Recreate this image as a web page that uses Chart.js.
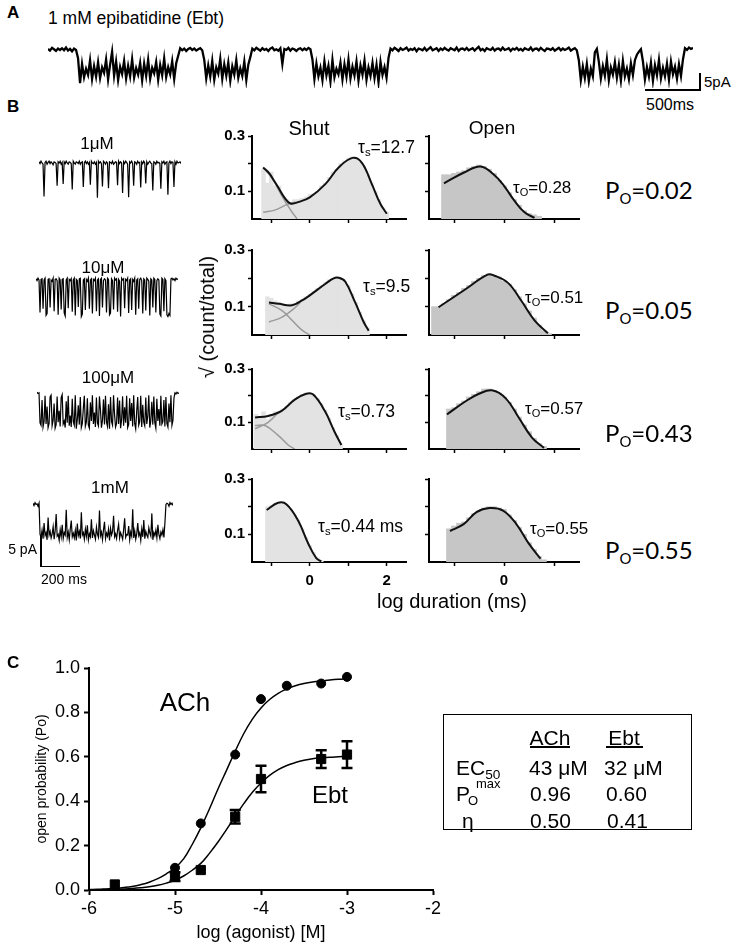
<!DOCTYPE html>
<html>
<head>
<meta charset="utf-8">
<script src="https://cdn.jsdelivr.net/npm/chart.js@4.4.1/dist/chart.umd.min.js"></script>
<style>
  body { margin: 0; background: #fff; }
  #page { position: relative; width: 733px; height: 945px; overflow: hidden; font-family: "Liberation Sans", Arial, sans-serif; color: #000; }
  canvas { position: absolute; }
  .t { position: absolute; white-space: nowrap; line-height: 1; }
  .c { transform: translate(-50%, -50%); }
  .l { transform: translateY(-50%); }
  .r { transform: translate(-100%, -50%); }
  .ln { position: absolute; background: #000; }
  .sub { font-size: 0.65em; position: relative; top: 0.3em; }
  .po { font-family: Lato, "Liberation Sans", sans-serif; font-size: 24px; }
  .po .sub { font-size: 0.62em; top: 0.35em; }
</style>
</head>
<body>
<div id="page">
  <div id="plots"></div>

  <!-- panel A -->
  <div class="t l" style="left:7px;top:12px;font-size:17px;font-weight:bold">A</div>
  <div class="t l" style="left:48px;top:19px;font-size:17.5px">1 mM epibatidine (Ebt)</div>
  <div class="ln" style="left:699px;top:73px;width:2px;height:18px"></div>
  <div class="ln" style="left:645px;top:89px;width:56px;height:2px"></div>
  <div class="t l" style="left:704px;top:81px;font-size:15px">5pA</div>
  <div class="t c" style="left:670px;top:105px;font-size:16px">500ms</div>

  <!-- panel B -->
  <div class="t l" style="left:7px;top:106px;font-size:17px;font-weight:bold">B</div>
  <div class="t c" style="left:309px;top:128px;font-size:20px">Shut</div>
  <div class="t c" style="left:492px;top:127px;font-size:19px">Open</div>
  <div class="t c" style="left:97px;top:143px;font-size:17px">1μM</div>
  <div class="t c" style="left:103px;top:267px;font-size:17px">10μM</div>
  <div class="t c" style="left:108px;top:377px;font-size:17px">100μM</div>
  <div class="t c" style="left:110px;top:487px;font-size:17px">1mM</div>
  <div class="ln" style="left:40px;top:536px;width:1.5px;height:31px"></div>
  <div class="ln" style="left:40px;top:565.5px;width:40px;height:1.5px"></div>
  <div class="t r" style="left:37px;top:549px;font-size:14px">5 pA</div>
  <div class="t c" style="left:64px;top:579px;font-size:14px">200 ms</div>
  <div class="t c" style="left:207px;top:317px;font-size:20px;transform:translate(-50%,-50%) rotate(-90deg)">√ (count/total)</div>
  <div class="t c" style="left:452px;top:601px;font-size:20px">log duration (ms)</div>

  <div class="t l" style="left:358px;top:148px;font-size:17.5px">τ<span class="sub">s</span>=12.7</div>
  <div class="t l" style="left:363px;top:287px;font-size:17.5px">τ<span class="sub">s</span>=9.5</div>
  <div class="t l" style="left:338px;top:412px;font-size:17.5px">τ<span class="sub">s</span>=0.73</div>
  <div class="t l" style="left:318px;top:527px;font-size:17.5px">τ<span class="sub">s</span>=0.44 ms</div>
  <div class="t l" style="left:513px;top:187px;font-size:17px">τ<span class="sub">O</span>=0.28</div>
  <div class="t l" style="left:525px;top:297px;font-size:17px">τ<span class="sub">O</span>=0.51</div>
  <div class="t l" style="left:525px;top:408px;font-size:17px">τ<span class="sub">O</span>=0.57</div>
  <div class="t l" style="left:530px;top:528px;font-size:17px">τ<span class="sub">O</span>=0.55</div>

  <div class="t l po" style="left:605px;top:190px">P<span class="sub">O</span>=0.02</div>
  <div class="t l po" style="left:605px;top:310px">P<span class="sub">O</span>=0.05</div>
  <div class="t l po" style="left:605px;top:433px">P<span class="sub">O</span>=0.43</div>
  <div class="t l po" style="left:605px;top:550px">P<span class="sub">O</span>=0.55</div>

  <!-- panel C -->
  <div class="t l" style="left:7px;top:662px;font-size:17px;font-weight:bold">C</div>
  <div class="t c" style="left:185px;top:702px;font-size:26px">ACh</div>
  <div class="t c" style="left:330px;top:795px;font-size:24px">Ebt</div>

  <div style="position:absolute;left:443px;top:714px;width:247px;height:114px;border:1.5px solid #000"></div>
  <div class="t c" style="left:550px;top:737px;font-size:21px">ACh</div>
  <div class="t c" style="left:624px;top:737px;font-size:21px">Ebt</div>
  <div class="ln" style="left:530px;top:746px;width:40px;height:1.5px"></div>
  <div class="ln" style="left:606px;top:746px;width:37px;height:1.5px"></div>
  <div class="t l" style="left:456px;top:767px;font-size:21px">EC<span class="sub">50</span></div>
  <div class="t l" style="left:456px;top:793px;font-size:21px">P</div>
  <div class="t l" style="left:468px;top:800px;font-size:13px">O</div>
  <div class="t l" style="left:476px;top:783px;font-size:13px">max</div>
  <div class="t l" style="left:462px;top:820px;font-size:21px">η</div>
  <div class="t l" style="left:529px;top:767px;font-size:21px">43 μM</div>
  <div class="t l" style="left:604px;top:767px;font-size:21px">32 μM</div>
  <div class="t l" style="left:530px;top:793px;font-size:21px">0.96</div>
  <div class="t l" style="left:606px;top:793px;font-size:21px">0.60</div>
  <div class="t l" style="left:530px;top:820px;font-size:21px">0.50</div>
  <div class="t l" style="left:607px;top:820px;font-size:21px">0.41</div>
</div>

<script>
// ---- panel A: 1 mM Ebt record, current in pA, one sample every 2 px ----
const traceA = [
  0.2,-0.3,0.5,0.1,-0.4,0.3,-0.1,0.4,-0.2,0.6,-0.3,0.2,-0.5,0.3,-0.1,
  -2.5,-9.8,-4.2,-8.1,-5.6,-7.4,-3.1,-8.6,-4.8,-7.9,-3.7,-8.3,-5.2,-6.8,-2.9,-8.7,-4.4,-0.6,-7.6,-3.5,
  -8.9,-5.0,-7.1,-3.3,-8.4,-4.7,-7.8,-2.8,-8.2,-5.4,-7.3,-3.9,-9.0,-4.1,-7.7,-3.0,-8.5,-5.3,-6.9,-3.6,
  -8.8,-4.5,-7.5,-2.6,-8.0,-5.1,-7.2,-3.4,-8.6,-4.0,-1.8,
  0.4,-0.2,0.3,-0.4,0.2,0.5,-0.1,0.3,-0.3,0.1,0.4,-0.2,
  -3.0,-8.4,-4.6,-7.9,-3.3,-8.8,-5.2,-7.0,-2.7,-8.5,-4.3,-7.6,-3.8,-9.1,-4.9,-7.3,-3.1,-8.2,-5.5,-7.7,-3.5,-8.9,-4.4,-2.2,
  0.3,-0.2,0.5,0.1,-0.3,0.4,-0.1,0.2,-0.4,0.3,0.6,-0.2,0.1,-0.3,0.4,-4.2,0.2,-0.1,0.5,-0.3,0.3,0.1,-0.4,0.2,0.4,-0.2,0.3,-0.1,0.5,0.1,
  -2.8,-8.6,-4.1,-7.8,-5.3,-8.9,-3.4,-7.5,-4.7,-9.3,-3.0,-8.1,-5.6,-7.2,-3.8,-8.7,-4.3,-7.9,-2.9,-8.4,
  -5.0,-7.6,-3.5,-9.0,-4.6,-7.3,-3.2,-8.8,-5.2,-7.7,-3.9,-8.3,-4.4,-9.5,-3.6,-7.4,-5.1,-8.2,-2.4,
  0.3,-0.2,0.5,0.1,-0.4,0.4,-0.1,0.2,0.6,-0.3,0.2,-0.1,0.4,-0.5,0.3,0.1,-0.2,0.5,-0.3,0.2,
  0.7,-0.2,0.1,0.4,-0.4,0.3,-0.1,0.5,0.0,-0.3,0.4,0.1,-0.2,0.6,-0.4,0.2,0.3,-0.1,0.5,-0.2,
  0.1,0.4,-0.3,0.3,0.8,-0.2,0.2,-0.4,0.4,0.1,-0.1,0.5,-0.3,0.2,0.3,-0.2,0.6,-0.1,0.1,0.4,
  -0.4,0.3,0.0,0.5,-0.2,0.2,-0.3,0.4,0.1,-0.1,0.6,-0.3,0.2,0.3,-0.2,0.5,0.0,-0.4,0.3,0.2,
  -0.1,0.4,-0.3,0.1,0.5,-0.2,0.3,-0.1,0.2,0.6,-0.3,0.1,0.4,-0.2,
  -3.1,-8.9,-5.0,-8.3,-4.2,-9.2,-5.6,-7.8,
  -0.8,0.2,
  -3.6,-8.5,-4.8,-7.6,-2.9,-8.9,-5.2,-7.3,-3.7,-8.2,-4.4,-9.0,-3.3,-7.8,-5.5,-8.6,-4.0,-7.4,-3.1,-1.5,
  -0.6,0.1,
  -3.4,-8.7,-5.1,-7.9,-3.8,-9.1,-4.6,-7.5,-3.0,-8.4,-5.3,-7.8,-4.1,-8.8,-3.5,-7.2,-5.0,-8.5,-4.3,-7.7,-2.8,
  0.4,-0.1,0.6,0.2,0.5
];

// ---- panel B example records (pA, one sample per px) ----
const trace1uM = [
  0.2,-0.1,0.3,0.0,-0.2,-5.6,0.1,0.3,-0.2,0.1,
  0.3,-0.1,0.2,0.0,-0.3,0.2,0.1,-0.1,-3.8,0.2,
  0.0,0.3,-0.2,0.1,-3.5,0.2,-0.1,0.3,0.0,-0.2,
  0.2,0.1,-0.1,-4.4,0.3,0.0,-0.2,0.2,0.1,-0.1,
  0.3,-0.2,0.1,0.2,-4.0,0.0,0.3,-0.1,0.2,-0.2,
  0.1,-3.6,0.3,0.0,-0.1,0.2,-0.2,0.1,-5.8,0.3,
  0.0,0.2,-0.1,-3.9,0.3,0.1,-0.2,0.2,0.0,-4.2,
  0.2,0.1,-0.1,0.3,-0.2,0.0,0.2,0.1,-3.7,0.3,
  -0.1,0.2,0.0,-5.0,0.2,-0.1,0.3,0.1,-0.2,-5.7,
  0.2,0.0,0.3,-0.1,-3.8,0.2,0.1,-0.2,0.3,0.0,
  0.1,-4.1,0.2,-0.1,0.3,0.0,-3.4,0.2,-0.2,0.1,
  0.3,0.0,-0.1,-4.6,0.2,0.1,-0.2,0.3,0.0,0.1,
  -0.1,-4.3,0.2,0.0,0.3,-0.2,0.1,0.2,-5.3,0.0,
  0.3,-0.1,0.2,0.1,-4.0,0.2,-0.2,0.3,0.0,0.1,
  0.2,-0.1
];
const trace10uM = [
  0.2,-0.1,0.3,0.0,-5.4,0.1,0.2,-4.8,0.0,0.3,
  -5.9,-5.6,0.1,0.2,-4.6,0.0,-0.2,0.3,-5.2,0.1,
  0.2,-0.1,-5.8,0.3,0.0,-4.9,0.1,0.2,-5.5,-6.0,
  0.0,0.3,-4.7,0.1,-0.1,0.2,-5.3,0.0,0.3,-5.9,
  0.1,-0.1,-4.5,0.2,0.3,-6.1,-5.7,0.0,0.2,-5.0,
  0.1,-0.2,0.3,-4.8,0.0,0.2,-5.6,0.1,-0.1,0.3,
  -5.2,0.0,0.2,-6.0,0.1,0.3,-4.6,-0.1,0.2,0.0,
  -5.4,0.3,0.1,-5.8,-5.5,0.2,-0.1,-4.9,0.3,0.0,
  0.2,-5.3,0.1,-0.2,-6.1,0.3,0.0,0.2,-4.7,0.1,
  -0.1,0.3,-5.5,0.0,0.2,-5.0,0.1,-0.2,0.3,-5.8,
  0.0,0.2,-4.8,0.1,0.3,-0.1,-5.6,0.2,0.0,-5.1,
  0.3,0.1,-0.2,-5.9,0.2,0.0,-4.6,0.3,0.1,-5.4,
  -0.1,0.2,0.0,-5.7,-6.0,0.3,0.1,-5.2,0.2,-0.1,
  -5.8,-6.1,-5.6,-5.9,0.2,0.3,0.0,0.2,-0.1,0.3,
  0.1,0.2
];
const trace100uM = [
  0.3,0.1,0.2,-4.8,-5.2,-1.0,-5.5,-4.6,-0.3,-5.0,
  -2.1,-5.6,-4.9,-0.5,-0.2,-5.3,-4.4,-1.6,-5.7,-5.1,
  -0.4,-4.7,-2.8,-5.4,-0.6,-0.1,-5.0,-4.5,-5.6,-1.2,
  -4.8,-0.3,-5.3,-3.6,-5.5,-0.8,-4.6,-5.2,-0.2,-5.8,
  -4.3,-1.9,-5.1,-0.5,-5.6,-4.9,-2.4,-0.3,-5.4,-4.7,
  -0.7,-5.2,-5.7,-1.4,-4.5,-0.2,-5.0,-3.1,-5.5,-0.6,
  -4.8,-5.3,-0.4,-2.6,-5.6,-4.4,-0.9,-5.1,-0.3,-4.7,
  -5.4,-1.7,-5.8,-0.5,-4.6,-5.2,-0.2,-3.4,-5.5,-4.9,
  -0.6,-5.0,-1.1,-5.7,-4.3,-0.4,-5.3,-2.2,-4.8,-0.3,
  -5.6,-5.1,-0.7,-4.5,-1.5,-5.4,-0.2,-4.9,-5.8,-2.9,
  -0.5,-5.2,-4.6,-0.3,-5.5,-1.8,-4.7,-5.3,-0.6,-5.0,
  -3.7,-0.2,-5.6,-4.4,-1.3,-5.1,-0.4,-4.8,-5.7,-0.8,
  -4.5,-2.5,-5.3,-0.3,-5.0,-4.6,-1.0,-5.4,-0.5,-4.9,
  -5.5,-1.6,-4.7,-0.2,-5.2,-4.4,-0.7,0.2,0.0,0.3,
  0.1,0.2
];
const trace1mM = [
  0.3,-0.1,0.4,0.1,0.2,-0.2,0.3,-4.9,-5.4,-4.2,
  -5.6,-3.0,-5.1,-4.6,-5.8,-2.1,-5.0,-4.4,-5.5,-4.8,
  -3.6,-5.7,-4.3,-1.5,-5.2,-4.9,-5.9,-4.1,-5.3,-3.3,
  -5.6,-4.6,-5.0,-0.8,-5.4,-4.5,-5.8,-4.0,-2.6,-5.3,
  -4.7,-5.5,-4.2,-5.9,-3.1,-5.1,-4.4,-5.6,-1.2,-5.0,
  -4.6,-5.7,-4.0,-5.2,-3.4,-5.8,-4.8,-5.3,-2.4,-5.5,
  -4.3,-5.0,-5.7,-3.7,-4.9,-5.4,-0.9,-5.1,-4.5,-5.8,
  -4.1,-2.8,-5.6,-4.7,-5.2,-4.0,-5.9,-3.9,-5.0,-4.4,
  -1.8,-5.3,-4.8,-5.6,-4.2,-3.2,-5.5,-4.6,-5.1,-5.7,
  -4.1,-2.2,-5.4,-4.9,-5.0,-3.5,-5.8,-4.5,-5.2,-0.7,
  -5.5,-4.3,-5.7,-4.8,-3.0,-5.1,-4.6,-5.9,-4.0,-5.3,
  -2.5,-5.6,-4.4,-5.0,-5.4,-3.8,-4.7,-5.2,-1.4,-5.8,
  -4.6,-5.1,-4.2,-5.5,-3.3,-4.9,-5.6,-4.5,-5.0,-4.1,
  -5.4,-2.9,0.1,0.3,0.2,-0.2,0.4,0.1,0.3,-0.1
];

// ---- dwell-time histograms: [log duration, sqrt(count/total)] ----
const shut1Bars = [[-1.2,.18],[-1.1,.13],[-1.0,.17],[-0.9,.12],[-0.8,.12],[-0.7,.08],[-0.6,.07],[-0.5,.06],[-0.4,.07],[-0.3,.07],[-0.2,.075],[-0.1,.08],[0,.09],[0.1,.09],[0.2,.10],[0.3,.12],[0.4,.13],[0.5,.15],[0.6,.17],[0.7,.18],[0.8,.20],[0.9,.21],[1.0,.22],[1.1,.225],[1.2,.22],[1.3,.205],[1.4,.19],[1.5,.16],[1.6,.13],[1.7,.10],[1.8,.07],[1.9,.04],[2.0,.025]];
const shut1Fit = [[-1.21,.186],[-1.05,.165],[-0.93,.139],[-0.8,.11],[-0.67,.08],[-0.5,.056],[-0.28,.062],[0,.078],[0.41,.127],[0.75,.186],[1.11,.221],[1.35,.204],[1.61,.127],[1.83,.056],[2.0,.019]];
const shut1CompA = [[-1.21,.186],[-0.97,.145],[-0.71,.08],[-0.5,.033],[-0.33,0]];
const shut1CompB = [[-1.21,.024],[-0.89,.033],[-0.63,.05],[-0.37,.062]];

const shut2Bars = [[-1.1,.135],[-1.0,.13],[-0.9,.12],[-0.8,.115],[-0.7,.11],[-0.6,.105],[-0.5,.11],[-0.4,.11],[-0.3,.12],[-0.2,.125],[-0.1,.135],[0,.145],[0.1,.155],[0.2,.165],[0.3,.175],[0.4,.185],[0.5,.195],[0.6,.2],[0.7,.205],[0.8,.2],[0.9,.19],[1.0,.175],[1.1,.145],[1.2,.115],[1.3,.08],[1.4,.05],[1.5,.025]];
const shut2Fit = [[-1.06,.115],[-0.8,.11],[-0.46,.105],[-0.2,.122],[0,.14],[0.4,.18],[0.62,.2],[0.75,.202],[0.92,.189],[1.18,.115],[1.4,.046],[1.53,.015]];
const shut2CompA = [[-1.06,.11],[-0.72,.086],[-0.46,.052],[-0.2,.017],[0,0]];
const shut2CompB = [[-1.06,.046],[-0.72,.063],[-0.37,.098],[-0.25,.115]];

const shut3Bars = [[-1.4,.13],[-1.3,.12],[-1.2,.14],[-1.1,.11],[-1.0,.13],[-0.9,.14],[-0.8,.14],[-0.7,.15],[-0.6,.16],[-0.5,.175],[-0.4,.185],[-0.3,.195],[-0.2,.205],[-0.1,.21],[0,.21],[0.1,.205],[0.2,.19],[0.3,.17],[0.4,.145],[0.5,.115],[0.6,.08],[0.7,.05],[0.8,.02]];
const shut3Fit = [[-1.42,.118],[-1.08,.124],[-0.73,.143],[-0.39,.185],[-0.09,.207],[0.09,.204],[0.39,.143],[0.65,.063],[0.82,.015]];
const shut3CompA = [[-1.42,.076],[-1.08,.10],[-0.82,.137]];
const shut3CompB = [[-1.42,.088],[-1.16,.088],[-0.82,.051],[-0.56,.015],[-0.39,0]];

const shut4Bars = [[-1.1,.2],[-1.0,.205],[-0.9,.21],[-0.8,.215],[-0.7,.21],[-0.6,.205],[-0.5,.19],[-0.4,.17],[-0.3,.15],[-0.2,.12],[-0.1,.09],[0,.06],[0.1,.035],[0.2,.015],[0.3,.005]];
const shut4Fit = [[-1.12,.188],[-0.82,.214],[-0.6,.208],[-0.3,.149],[-0.04,.067],[0.17,.014],[0.3,.002]];

const open1Bars = [[-1.2,.16],[-1.1,.16],[-1.0,.165],[-0.9,.17],[-0.8,.175],[-0.7,.185],[-0.6,.19],[-0.5,.195],[-0.4,.19],[-0.3,.18],[-0.2,.165],[-0.1,.14],[0,.12],[0.1,.095],[0.2,.07],[0.3,.05],[0.4,.03],[0.5,.02],[0.6,.015],[0.7,.01]];
const open1Fit = [[-1.2,.129],[-0.8,.168],[-0.47,.19],[-0.2,.16],[0,.12],[0.2,.068],[0.41,.024],[0.61,.004]];
const open2Bars = [[-1.4,.1],[-1.3,.1],[-1.2,.11],[-1.1,.125],[-1.0,.14],[-0.9,.15],[-0.8,.165],[-0.7,.175],[-0.6,.19],[-0.5,.2],[-0.4,.21],[-0.3,.215],[-0.2,.21],[-0.1,.205],[0,.19],[0.1,.18],[0.2,.16],[0.3,.135],[0.4,.11],[0.5,.085],[0.6,.06],[0.7,.035],[0.8,.015],[0.9,.005]];
const open2Fit = [[-1.31,.098],[-0.8,.158],[-0.33,.213],[-0.2,.21],[0.08,.184],[0.35,.12],[0.61,.052],[0.88,.006]];
const open3Bars = [[-1.1,.15],[-1.0,.155],[-0.9,.17],[-0.8,.18],[-0.7,.195],[-0.6,.205],[-0.5,.215],[-0.4,.225],[-0.3,.225],[-0.2,.22],[-0.1,.21],[0,.195],[0.1,.175],[0.2,.15],[0.3,.12],[0.4,.09],[0.5,.065],[0.6,.04],[0.7,.02],[0.8,.01]];
const open3Fit = [[-1.14,.13],[-0.76,.18],[-0.5,.207],[-0.24,.22],[0.04,.189],[0.3,.116],[0.56,.043],[0.8,.004]];
const open4Bars = [[-1.1,.12],[-1.0,.13],[-0.9,.14],[-0.8,.145],[-0.7,.16],[-0.6,.175],[-0.5,.185],[-0.4,.195],[-0.3,.2],[-0.2,.2],[-0.1,.195],[0,.19],[0.1,.17],[0.2,.15],[0.3,.125],[0.4,.1],[0.5,.07],[0.6,.045],[0.7,.02],[0.8,.008]];
const open4Fit = [[-1.08,.112],[-0.8,.138],[-0.55,.18],[-0.29,.195],[-0.02,.186],[0.24,.139],[0.49,.068],[0.73,.012]];

const histYTicks = [0.1, 0.2, 0.3];
const histYLabels = ['0.1', '', '0.3'];
const shutXTicks = [-1, 0, 1, 2];
const shutXLabels = ['', '0', '', '2'];
const openXTicks = [-1, 0, 1];
const openXLabels = ['', '0', ''];

// ---- panel C: concentration-response ----
const achX = [-5, -4.7, -4.3, -4, -3.7, -3.3, -3];
const achY = [0.10, 0.30, 0.61, 0.86, 0.92, 0.93, 0.96];
const ebtX = [-5.7, -5, -4.7, -4.3, -4, -3.3, -3];
const ebtY = [0.025, 0.06, 0.09, 0.33, 0.50, 0.59, 0.61];
const ebtErr = [0, 0.02, 0, 0.03, 0.06, 0.04, 0.06];
const fitX = [-6.0,-5.9,-5.8,-5.7,-5.6,-5.5,-5.4,-5.3,-5.2,-5.1,-5.0,-4.9,-4.8,-4.7,-4.6,-4.5,-4.4,-4.3,-4.2,-4.1,-4.0,-3.9,-3.8,-3.7,-3.6,-3.5,-3.4,-3.3,-3.2,-3.1,-3.0];
const achFit = [0.002,0.003,0.005,0.007,0.011,0.016,0.024,0.035,0.051,0.073,0.100,0.140,0.205,0.280,0.365,0.455,0.540,0.625,0.705,0.770,0.820,0.858,0.886,0.906,0.920,0.930,0.937,0.942,0.946,0.949,0.951];
const ebtFit = [0.001,0.0014,0.002,0.003,0.0045,0.0066,0.0098,0.0143,0.021,0.031,0.044,0.063,0.089,0.120,0.165,0.216,0.273,0.332,0.389,0.440,0.482,0.516,0.542,0.561,0.574,0.584,0.591,0.595,0.598,0.600,0.602];
const cXTicks = [-6, -5, -4, -3, -2];
const cYTicks = [0, 0.2, 0.4, 0.6, 0.8, 1.0];

Chart.defaults.font.family = '"Liberation Sans", Arial, sans-serif';
Chart.defaults.color = '#000';

const plots = document.getElementById('plots');
function addCanvas(left, top, w, h) {
  const c = document.createElement('canvas');
  c.width = w; c.height = h;
  c.style.left = left + 'px';
  c.style.top = top + 'px';
  plots.appendChild(c);
  return c;
}
const pts = arr => arr.map(p => ({ x: p[0], y: p[1] }));
const quiet = { responsive: false, animation: false, events: [], plugins: { legend: { display: false }, tooltip: { enabled: false } } };

function traceChart(vals, left, top, w, h, min, max, lw) {
  new Chart(addCanvas(left, top, w, h), {
    type: 'line',
    data: {
      labels: vals.map((v, i) => i),
      datasets: [{ data: vals, borderColor: '#000', borderWidth: lw, pointRadius: 0, tension: 0 }]
    },
    options: Object.assign({}, quiet, {
      layout: { padding: 0 },
      scales: {
        x: { type: 'linear', display: false, min: 0, max: vals.length - 1 },
        y: { display: false, min: min, max: max }
      }
    })
  });
}

traceChart(traceA, 48, 40, 645, 48, -11.2, 2.8, 2.3);
traceChart(trace1uM, 39, 154, 142, 51, -7, 1.5, 1.2);
traceChart(trace10uM, 36, 271, 142, 51, -7, 1.5, 1.2);
traceChart(trace100uM, 37, 385, 142, 51, -7, 1.5, 1.2);
traceChart(trace1mM, 33, 496, 140, 51, -7, 1.5, 1.2);

function histChart(p) {
  const shut = p.kind === 'shut';
  const xTicks = shut ? shutXTicks : openXTicks;
  const xLabels = shut ? shutXLabels : openXLabels;
  const datasets = [{
    type: 'bar', data: pts(p.bars), backgroundColor: shut ? '#e3e3e3' : '#c6c6c6',
    barPercentage: 1, categoryPercentage: 1, order: 3
  }];
  (p.comps || []).forEach(cp => datasets.push({
    type: 'line', data: pts(cp), borderColor: '#9a9a9a', borderWidth: 1.5, pointRadius: 0, tension: 0.4, order: 2
  }));
  datasets.push({ type: 'line', data: pts(p.fit), borderColor: '#111', borderWidth: 2, pointRadius: 0, tension: 0.4, order: 1 });

  new Chart(addCanvas(p.left - 40, p.top - 10, p.w + 46, p.h + 34), {
    type: 'bar',
    data: { datasets: datasets },
    options: Object.assign({}, quiet, {
      layout: { padding: { top: 10, right: 6, left: 0, bottom: 0 } },
      scales: {
        x: {
          type: 'linear', min: -1.5, max: shut ? 2.5 : 1.5, offset: false, z: 1,
          afterBuildTicks: s => { s.ticks = xTicks.map(v => ({ value: v })); },
          afterFit: s => { s.height = 24; },
          ticks: { font: { size: 15, weight: 'bold' }, padding: 6, maxRotation: 0,
                   callback: (v, i) => p.xLabels ? xLabels[i] : '' },
          grid: { offset: false, drawOnChartArea: false, tickLength: 4, tickWidth: 1.5, color: '#000' },
          border: { color: '#000', width: 2 }
        },
        y: {
          min: 0, max: 0.3, z: 1,
          afterBuildTicks: s => { s.ticks = histYTicks.map(v => ({ value: v })); },
          afterFit: s => { s.width = 40; },
          ticks: { font: { size: 15, weight: 'bold' }, padding: 3,
                   callback: (v, i) => shut ? histYLabels[i] : '' },
          grid: { drawOnChartArea: false, tickLength: 4, tickWidth: 1.5, color: '#000' },
          border: { color: '#000', width: 2 }
        }
      }
    })
  });
}

const rows = [[134, 85], [248, 87], [367, 82], [477, 85]];
const shutSets = [
  { bars: shut1Bars, fit: shut1Fit, comps: [shut1CompA, shut1CompB] },
  { bars: shut2Bars, fit: shut2Fit, comps: [shut2CompA, shut2CompB] },
  { bars: shut3Bars, fit: shut3Fit, comps: [shut3CompA, shut3CompB] },
  { bars: shut4Bars, fit: shut4Fit }
];
const openSets = [
  { bars: open1Bars, fit: open1Fit },
  { bars: open2Bars, fit: open2Fit },
  { bars: open3Bars, fit: open3Fit },
  { bars: open4Bars, fit: open4Fit }
];
rows.forEach((r, i) => {
  histChart(Object.assign({ kind: 'shut', left: 252, top: r[0], w: 154, h: r[1], xLabels: i === 3 }, shutSets[i]));
  histChart(Object.assign({ kind: 'open', left: 429, top: r[0], w: 150, h: r[1], xLabels: i === 3 }, openSets[i]));
});

// error bars for the Ebt means
const errorBars = {
  id: 'errorBars',
  afterDatasetsDraw(chart) {
    const { ctx, scales: { x, y } } = chart;
    ctx.save();
    ctx.strokeStyle = '#000';
    ctx.lineWidth = 2.5;
    ebtX.forEach((v, i) => {
      if (!ebtErr[i]) return;
      const px = x.getPixelForValue(v);
      const top = y.getPixelForValue(ebtY[i] + ebtErr[i]);
      const bot = y.getPixelForValue(ebtY[i] - ebtErr[i]);
      ctx.beginPath();
      ctx.moveTo(px, top); ctx.lineTo(px, bot);
      ctx.moveTo(px - 5.5, top); ctx.lineTo(px + 5.5, top);
      ctx.moveTo(px - 5.5, bot); ctx.lineTo(px + 5.5, bot);
      ctx.stroke();
    });
    ctx.restore();
  }
};

new Chart(addCanvas(0, 640, 450, 305), {
  type: 'scatter',
  data: {
    datasets: [
      { type: 'line', label: 'ACh fit', data: fitX.map((x, i) => ({ x: x, y: achFit[i] })), borderColor: '#000', borderWidth: 1.5, pointRadius: 0, tension: 0.4, order: 3 },
      { type: 'line', label: 'Ebt fit', data: fitX.map((x, i) => ({ x: x, y: ebtFit[i] })), borderColor: '#000', borderWidth: 1.5, pointRadius: 0, tension: 0.4, order: 3 },
      { label: 'ACh', data: achX.map((x, i) => ({ x: x, y: achY[i] })), pointStyle: 'circle', pointRadius: 4.5, backgroundColor: '#000', borderColor: '#000', order: 1 },
      { label: 'Ebt', data: ebtX.map((x, i) => ({ x: x, y: ebtY[i] })), pointStyle: 'rect', pointRadius: 6.5, backgroundColor: '#000', borderColor: '#000', order: 2 }
    ]
  },
  options: Object.assign({}, quiet, {
    layout: { padding: { top: 28, right: 17, left: 0, bottom: 0 } },
    scales: {
      x: {
        type: 'linear', min: -6, max: -2,
        afterBuildTicks: s => { s.ticks = cXTicks.map(v => ({ value: v })); },
        afterFit: s => { s.height = 55; },
        ticks: { font: { size: 18 }, padding: 3, maxRotation: 0, callback: v => String(v) },
        grid: { drawOnChartArea: false, tickLength: 5, tickWidth: 2, color: '#000' },
        border: { color: '#000', width: 2 },
        title: { display: true, text: 'log (agonist) [M]', font: { size: 18 }, padding: { top: 0, bottom: 1.2 } }
      },
      y: {
        min: 0, max: 1,
        afterBuildTicks: s => { s.ticks = cYTicks.map(v => ({ value: v })); },
        afterFit: s => { s.width = 89; },
        ticks: { font: { size: 18 }, padding: 4, callback: v => v.toFixed(1) },
        grid: { drawOnChartArea: false, tickLength: 5, tickWidth: 2, color: '#000' },
        border: { color: '#000', width: 2 },
        title: { display: true, text: 'open probability (Po)', font: { size: 14 }, padding: { top: 33.6, bottom: 0 } }
      }
    }
  }),
  plugins: [errorBars]
});
</script>
</body>
</html>
